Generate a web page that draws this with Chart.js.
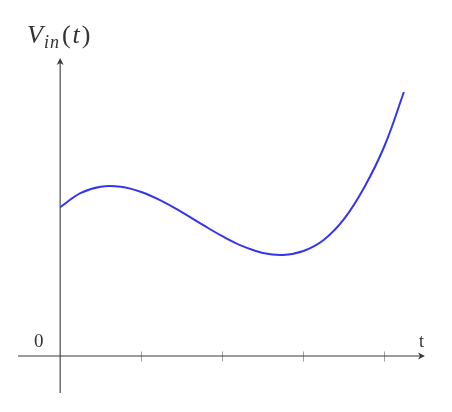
<!DOCTYPE html>
<html>
<head>
<meta charset="utf-8">
<script src="https://cdn.jsdelivr.net/npm/chart.js@4"></script>
<style>
  html, body { margin: 0; padding: 0; background: #fff; }
  #wrap { position: relative; width: 452px; height: 412px; }
  canvas { position: absolute; left: 0; top: 0; }
  .lbl { position: absolute; font-family: "Liberation Serif", "DejaVu Serif", serif; color: #333; white-space: nowrap; line-height: 1; }
  .it { font-style: italic; }
</style>
</head>
<body>
<div id="wrap">
  <canvas id="c" width="452" height="412"></canvas>
  <div class="lbl" style="left:27px; top:22px; font-size:26px;"><span class="it">V</span><sub class="it" style="font-size:18px; vertical-align:-5px; margin-left:1px; letter-spacing:1px;">in</sub><span style="margin-left:2px;">(</span><span class="it" style="margin:0 2px;">t</span>)</div>
  <div class="lbl" style="left:34px; top:331px; font-size:19px;">0</div>
  <div class="lbl" style="left:419px; top:332px; font-size:18px;">t</div>
</div>
<script>
// Data
const xValues = [0, 0.25, 0.5, 0.75, 1.0, 1.25, 1.5, 1.75, 2.0, 2.25, 2.5, 2.75, 3.0, 3.25, 3.5, 3.75, 4.0, 4.24];
const yValues = [1.487, 1.628, 1.693, 1.692, 1.640, 1.551, 1.438, 1.316, 1.198, 1.098, 1.031, 1.011, 1.050, 1.160, 1.368, 1.685, 2.100, 2.640];
const xTicks = [1, 2, 3, 4];
const xRange = [-0.52, 4.50];
const yRange = [-0.37, 2.98];

const points = xValues.map((x, i) => ({ x: x, y: yValues[i] }));

function arrowHead(ctx, x, y, dir) {
  ctx.save();
  ctx.translate(x, y);
  ctx.rotate(dir);
  ctx.beginPath();
  ctx.moveTo(0, 0);
  ctx.lineTo(-7, -3.5);
  ctx.lineTo(-5, 0);
  ctx.lineTo(-7, 3.5);
  ctx.closePath();
  ctx.fill();
  ctx.restore();
}

const axesPlugin = {
  id: 'axesPlugin',
  beforeDatasetsDraw(chart) {
    const ctx = chart.ctx;
    const xs = chart.scales.x, ys = chart.scales.y;
    const x0 = xs.getPixelForValue(0), y0 = ys.getPixelForValue(0);
    const xL = xs.getPixelForValue(xRange[0]), xR = xs.getPixelForValue(xRange[1]);
    const yB = ys.getPixelForValue(yRange[0]), yT = ys.getPixelForValue(yRange[1]);
    ctx.save();
    ctx.strokeStyle = '#a0a0a0';
    ctx.lineWidth = 1;
    xTicks.forEach(t => {
      const px = Math.round(xs.getPixelForValue(t)) + 0.5;
      ctx.beginPath();
      ctx.moveTo(px, y0 - 4.5);
      ctx.lineTo(px, y0 + 5.5);
      ctx.stroke();
    });
    ctx.strokeStyle = '#3a3a3a';
    ctx.fillStyle = '#3a3a3a';
    ctx.lineWidth = 1.1;
    ctx.beginPath();
    ctx.moveTo(xL, y0);
    ctx.lineTo(xR - 3, y0);
    ctx.moveTo(x0, yB);
    ctx.lineTo(x0, yT + 3);
    ctx.stroke();
    arrowHead(ctx, xR, y0, 0);
    arrowHead(ctx, x0, yT, -Math.PI / 2);
    ctx.restore();
  }
};

new Chart(document.getElementById('c'), {
  type: 'line',
  data: {
    datasets: [{
      data: points,
      borderColor: '#3535f0',
      borderWidth: 2,
      pointRadius: 0,
      tension: 0.4,
      fill: false
    }]
  },
  options: {
    responsive: false,
    animation: false,
    devicePixelRatio: 1,
    layout: { padding: { left: 18, right: 27, top: 58, bottom: 19 } },
    plugins: { legend: { display: false }, tooltip: { enabled: false } },
    scales: {
      x: { type: 'linear', min: xRange[0], max: xRange[1], display: false },
      y: { type: 'linear', min: yRange[0], max: yRange[1], display: false }
    }
  },
  plugins: [axesPlugin]
});
</script>
</body>
</html>
